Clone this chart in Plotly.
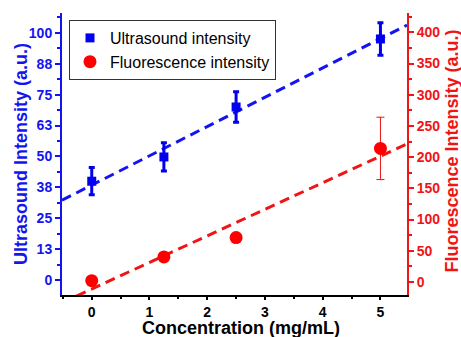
import numpy as np
import plotly.graph_objects as go

conc = [0, 1.25, 2.5, 5]
ultra = [40, 49.8, 70, 97.5]
ultra_err = [5.5, 5.7, 6.2, 6.6]
fluor = [2, 40, 71, 214]
fluor_err = [0, 0, 0, 50]

left_tickvals = [0, 12.5, 25, 37.5, 50, 62.5, 75, 87.5, 100]
left_ticktext = ["0", "13", "25", "38", "50", "63", "75", "88", "100"]

BLUE = "#1414f0"
RED = "#f01414"
FONT = "Arial"

xr = [-0.515, 5.46]
yr = [-6, 108]
y2r = [-21, 431]

# plot area in pixels (used only to place titles)
L, R, T, B = 62, 54, 13, 42
W, H = 461, 337
PW, PH = W - L - R, H - T - B

def px2paper_x(px):
    return (px - L) / PW

def px2paper_y(py):
    return (H - B - py) / PH

# linear fits
pu = np.polyfit(conc, ultra, 1)
pf = np.polyfit(conc, fluor, 1)
xfit = np.array(xr)

fig = go.Figure()
fig.add_trace(go.Scatter(x=xfit, y=np.polyval(pu, xfit), mode="lines",
                         line=dict(color=BLUE, width=3, dash="10px,6px"),
                         showlegend=False, hoverinfo="skip"))
fig.add_trace(go.Scatter(x=xfit, y=np.polyval(pf, xfit), mode="lines", yaxis="y2",
                         line=dict(color=RED, width=3, dash="10px,6px"),
                         showlegend=False, hoverinfo="skip"))
fig.add_trace(go.Scatter(x=conc, y=ultra, mode="markers", name="Ultrasound intensity",
                         marker=dict(symbol="square", size=9, color="#0000ee"),
                         error_y=dict(type="data", array=ultra_err, color="#0000ee",
                                      thickness=3, width=3)))
fig.add_trace(go.Scatter(x=conc, y=fluor, mode="markers", name="Fluorescence intensity",
                         yaxis="y2", cliponaxis=False,
                         marker=dict(symbol="circle", size=13, color="#ff0000"),
                         error_y=dict(type="data", array=fluor_err, color="#ee1111",
                                      thickness=1, width=4)))

title_font = dict(family=FONT, size=18, weight="bold")
fig.update_layout(
    width=W, height=H,
    margin=dict(l=L, r=R, t=T, b=B),
    paper_bgcolor="white", plot_bgcolor="white",
    font=dict(family=FONT),
    showlegend=True,
    legend=dict(x=px2paper_x(69), y=px2paper_y(20), xanchor="left", yanchor="top",
                bordercolor="#333333", borderwidth=1, bgcolor="white",
                font=dict(family=FONT, size=16, color="black"),
                tracegroupgap=0, itemwidth=30),
    xaxis=dict(range=xr, tickmode="linear", tick0=0, dtick=1, automargin=False,
               showgrid=False, zeroline=False,
               showline=True, linecolor="black", linewidth=2,
               ticks="outside", ticklen=3, tickwidth=2, tickcolor="black",
               minor=dict(tickmode="linear", tick0=0, dtick=0.5, ticks="outside",
                          ticklen=2, tickwidth=2, tickcolor="black"),
               tickfont=dict(family=FONT, size=14, color="black", weight="bold")),
    yaxis=dict(range=yr, tickmode="array", tickvals=left_tickvals, ticktext=left_ticktext,
               automargin=False, showgrid=False, zeroline=False,
               showline=True, linecolor=BLUE, linewidth=2,
               ticks="outside", ticklen=5, tickwidth=2, tickcolor=BLUE,
               minor=dict(tickmode="linear", tick0=0, dtick=6.25, ticks="outside",
                          ticklen=3, tickwidth=2, tickcolor=BLUE),
               tickfont=dict(family=FONT, size=14, color=BLUE, weight="bold")),
    yaxis2=dict(range=y2r, overlaying="y", side="right", tickmode="linear", tick0=0, dtick=50,
                automargin=False, showgrid=False, zeroline=False,
                showline=True, linecolor=RED, linewidth=2,
                ticks="outside", ticklen=5, tickwidth=2, tickcolor=RED,
                minor=dict(tickmode="linear", tick0=0, dtick=25, ticks="outside",
                           ticklen=3, tickwidth=2, tickcolor=RED),
                tickfont=dict(family=FONT, size=14, color=RED, weight="bold")),
    annotations=[
        dict(text="Concentration (mg/mL)", xref="paper", yref="paper",
             x=px2paper_x(241.5), y=px2paper_y(328), xanchor="center", yanchor="middle",
             showarrow=False, font=dict(title_font, color="black")),
        dict(text="Ultrasound Intensity (a.u.)", xref="paper", yref="paper",
             x=px2paper_x(21), y=px2paper_y(154), xanchor="center", yanchor="middle",
             textangle=-90, showarrow=False, font=dict(title_font, color=BLUE)),
        dict(text="Fluorescence Intensity (a.u.)", xref="paper", yref="paper",
             x=px2paper_x(451.5), y=px2paper_y(151), xanchor="center", yanchor="middle",
             textangle=-90, showarrow=False, font=dict(title_font, color=RED)),
    ],
)

fig.write_html(
    "out.html",
    config={"displayModeBar": False},
    post_script="document.body.style.margin='0';document.body.style.overflow='hidden';",
)
